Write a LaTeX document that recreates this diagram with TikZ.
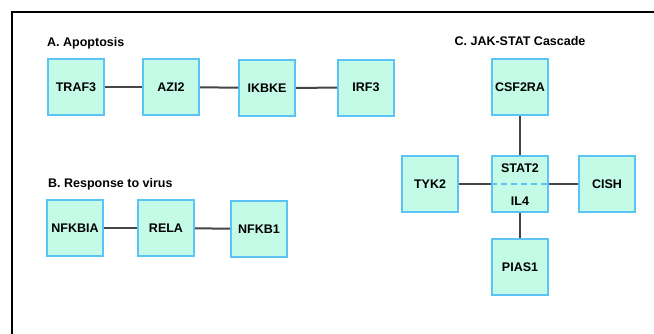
\documentclass[tikz,border=0pt]{standalone}
\usepackage{fontspec}
\setmainfont{Liberation Sans}
\begin{document}
\begin{tikzpicture}[x=1pt,y=-1pt,
  gene/.style={draw=boxblue, fill=boxfill, line width=2pt, minimum width=56pt, minimum height=56pt, inner sep=0pt, font=\fontsize{12.5}{14}\selectfont\bfseries},
  link/.style={draw=linkgray, line width=2pt},
  title/.style={anchor=west, inner sep=0pt, font=\fontsize{12.5}{14}\selectfont\bfseries},
  lbl/.style={inner sep=0pt, font=\fontsize{12.5}{14}\selectfont\bfseries}]
\definecolor{boxblue}{HTML}{5CC3F5}
\definecolor{boxfill}{HTML}{C4FBE6}
\definecolor{linkgray}{HTML}{454545}
\useasboundingbox (0,0) rectangle (654,333);
\fill[white] (0,0) rectangle (654,333);
\draw[black, line width=2pt] (11.5,340) -- (11.5,11.5) -- (660,11.5);

% A
\node[title] (ta) at (47,43) {A. Apoptosis};
\node[gene] (traf3) at (76,87) {TRAF3};
\node[gene] (azi2) at (171,87) {AZI2};
\node[gene] (ikbke) at (267,88) {IKBKE};
\node[gene] (irf3) at (366,87.5) {IRF3};
\draw[link] (traf3) -- (azi2);
\draw[link] (azi2) -- (ikbke);
\draw[link] (ikbke) -- (irf3);

% B
\node[title] (tb) at (48,184) {B. Response to virus};
\node[gene] (nfkbia) at (75,228) {NFKBIA};
\node[gene] (rela) at (166,228) {RELA};
\node[gene] (nfkb1) at (259,229) {NFKB1};
\draw[link] (nfkbia) -- (rela);
\draw[link] (rela) -- (nfkb1);

% C
\node[lbl] (tc) at (520,41) {C. JAK-STAT Cascade};
\node[gene] (csf2ra) at (520,87) {CSF2RA};
\node[gene] (tyk2) at (430,184) {TYK2};
\node[gene] (stat) at (520,184) {};
\node[gene] (cish) at (607,184) {CISH};
\node[gene] (pias1) at (520,267) {PIAS1};
\node[lbl] (stat2) at (520,168) {STAT2};
\node[lbl] (il4) at (520,201) {IL4};
\draw[boxblue, line width=2pt, dash pattern=on 6pt off 4pt] (stat.west) -- (stat.east);
\draw[link] (csf2ra) -- (stat);
\draw[link] (tyk2) -- (stat.west);
\draw[link] (stat.east) -- (cish);
\draw[link] (stat) -- (pias1);
\end{tikzpicture}
\end{document}
